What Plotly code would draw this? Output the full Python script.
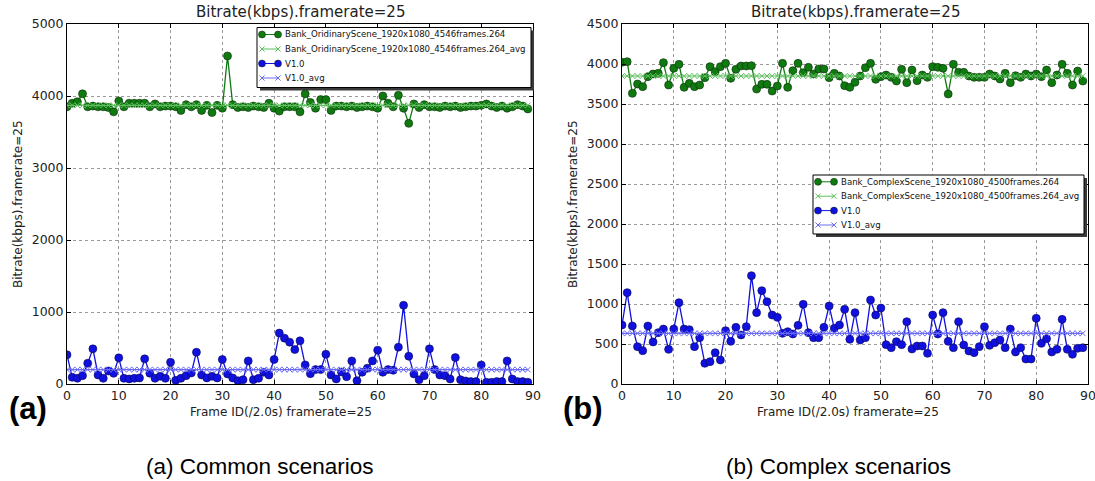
import plotly.graph_objects as go

frames = list(range(90))

# (a) Common scenarios
common_ref = [3850, 3900, 3920, 4030, 3850, 3860, 3850, 3850, 3840, 3780,
              3930, 3850, 3900, 3900, 3900, 3900, 3850, 3890, 3850, 3860,
              3860, 3850, 3800, 3880, 3850, 3880, 3800, 3870, 3770, 3870,
              3830, 4556, 3880, 3840, 3850, 3840, 3860, 3850, 3840, 3900,
              3830, 3790, 3850, 3850, 3850, 3780, 4030, 3910, 3830, 3950,
              3950, 3800, 3860, 3860, 3850, 3860, 3840, 3850, 3860, 3850,
              3830, 4000, 3900, 3850, 4010, 3830, 3620, 3890, 3840, 3880,
              3850, 3850, 3840, 3860, 3850, 3860, 3840, 3850, 3860, 3860,
              3870, 3890, 3860, 3840, 3860, 3830, 3850, 3880, 3860, 3820]
common_ref_avg = 3870
common_v1 = [405, 93, 80, 116, 288, 488, 125, 79, 181, 149,
             363, 79, 70, 79, 84, 349, 149, 79, 107, 79,
             302, 51, 79, 116, 153, 442, 125, 84, 107, 84,
             340, 140, 84, 46, 60, 321, 60, 79, 163, 125,
             340, 707, 637, 581, 479, 600, 265, 144, 200, 200,
             414, 125, 70, 167, 102, 321, 46, 163, 219, 321,
             470, 163, 200, 191, 512, 1093, 386, 140, 60, 116,
             488, 200, 125, 116, 70, 367, 60, 42, 33, 33,
             265, 23, 23, 33, 33, 321, 70, 33, 33, 23]
common_v1_avg = 200

# (b) Complex scenarios
complex_ref = [4021, 4029, 3633, 3750, 3717, 3842, 3875, 3883, 4017, 3737,
               3946, 3996, 3708, 3758, 3717, 3737, 3829, 3967, 3904, 3967,
               4008, 3821, 3933, 3975, 3975, 3979, 3687, 3746, 3746, 3662,
               3725, 4008, 3708, 3917, 4008, 3892, 3958, 3875, 3938, 3938,
               3829, 3883, 3850, 3729, 3708, 3771, 3850, 3954, 4008, 3808,
               3842, 3862, 3833, 3787, 3933, 3767, 3925, 3792, 3862, 3833,
               3967, 3958, 3946, 3625, 3996, 3896, 3896, 3850, 3833, 3833,
               3833, 3875, 3850, 3812, 3883, 3767, 3854, 3833, 3875, 3850,
               3875, 3842, 3925, 3767, 3862, 3996, 3883, 3737, 3912, 3787]
complex_ref_avg = 3850
complex_v1 = [737, 1142, 725, 467, 417, 725, 525, 642, 687, 433,
              687, 1017, 687, 679, 467, 579, 258, 279, 392, 300,
              667, 533, 708, 613, 717, 1354, 892, 1167, 1029, 862,
              833, 633, 654, 625, 733, 996, 642, 579, 579, 708,
              975, 696, 737, 933, 558, 892, 550, 579, 1050, 862,
              950, 492, 454, 529, 492, 779, 438, 475, 475, 383,
              862, 625, 892, 533, 454, 779, 488, 412, 392, 467,
              717, 483, 517, 550, 454, 687, 400, 454, 312, 312,
              821, 508, 567, 400, 433, 808, 433, 371, 446, 454]
complex_v1_avg = 633

names_a = ["Bank_OridinaryScene_1920x1080_4546frames.264",
           "Bank_OridinaryScene_1920x1080_4546frames.264_avg", "V1.0", "V1.0_avg"]
names_b = ["Bank_ComplexScene_1920x1080_4500frames.264",
           "Bank_ComplexScene_1920x1080_4500frames.264_avg", "V1.0", "V1.0_avg"]

x_ticks = [0, 10, 20, 30, 40, 50, 60, 70, 80, 90]
y_ticks_a = [0, 1000, 2000, 3000, 4000, 5000]
y_ticks_b = [0, 500, 1000, 1500, 2000, 2500, 3000, 3500, 4000, 4500]

plot_title = "Bitrate(kbps).framerate=25"
x_title = "Frame ID(/2.0s) framerate=25"
y_title = "Bitrate(kbps).framerate=25"
caption_a = "(a) Common scenarios"
caption_b = "(b) Complex scenarios"

W, H = 1095, 481
GREEN = "#0f7a0f"
BLUE = "#1010e0"
LGREEN = "#5ec05e"
LBLUE = "#6a6af5"
FONT = "DejaVu Sans"
styles = [(GREEN, "dot"), (LGREEN, "x"), (BLUE, "dot"), (LBLUE, "x")]

fig = go.Figure()


def add_panel(ref, ref_avg, v1, v1_avg, names, xa, ya):
    fig.add_trace(go.Scatter(x=frames, y=ref, mode="lines+markers", name=names[0],
                             line=dict(color=GREEN, width=1.3),
                             marker=dict(size=8, color=GREEN, line=dict(color="#0b2b0b", width=0.6)),
                             xaxis=xa, yaxis=ya))
    fig.add_trace(go.Scatter(x=frames, y=[ref_avg] * len(frames), mode="lines+markers", name=names[1],
                             line=dict(color=LGREEN, width=1.2),
                             marker=dict(size=5.5, symbol="x-thin", color=LGREEN, line=dict(color=LGREEN, width=1)),
                             xaxis=xa, yaxis=ya))
    fig.add_trace(go.Scatter(x=frames, y=v1, mode="lines+markers", name=names[2],
                             line=dict(color=BLUE, width=1.3),
                             marker=dict(size=8, color=BLUE, line=dict(color="#0a0a50", width=0.6)),
                             xaxis=xa, yaxis=ya))
    fig.add_trace(go.Scatter(x=frames, y=[v1_avg] * len(frames), mode="lines+markers", name=names[3],
                             line=dict(color=LBLUE, width=1.2),
                             marker=dict(size=5.5, symbol="x-thin", color=LBLUE, line=dict(color=LBLUE, width=1)),
                             xaxis=xa, yaxis=ya))


add_panel(common_ref, common_ref_avg, common_v1, common_v1_avg, names_a, "x", "y")
add_panel(complex_ref, complex_ref_avg, complex_v1, complex_v1_avg, names_b, "x2", "y2")


def px(x):
    return x / W


def py(y):
    return 1 - y / H


def draw_legend(names, box, row0, step):
    x0, y0, x1, y1 = box
    # shadow
    fig.add_shape(type="rect", xref="paper", yref="paper", x0=px(x0 + 3), x1=px(x1 + 3),
                  y0=py(y0 + 3), y1=py(y1 + 3), fillcolor="#3a3a3a", line=dict(width=0), layer="above")
    fig.add_shape(type="rect", xref="paper", yref="paper", x0=px(x0), x1=px(x1),
                  y0=py(y0), y1=py(y1), fillcolor="white", line=dict(color="black", width=1), layer="above")
    sx0, sx1 = x0 + 5, x0 + 21
    for k, (name, (col, kind)) in enumerate(zip(names, styles)):
        yy = row0 + step * k
        fig.add_shape(type="line", xref="paper", yref="paper", x0=px(sx0), x1=px(sx1),
                      y0=py(yy), y1=py(yy), line=dict(color=col, width=1), layer="above")
        for cx in (sx0, sx1):
            if kind == "dot":
                r = 3.5
                fig.add_shape(type="circle", xref="paper", yref="paper", x0=px(cx - r), x1=px(cx + r),
                              y0=py(yy + r), y1=py(yy - r), fillcolor=col,
                              line=dict(color="#0b200b", width=0.5), layer="above")
            else:
                r = 2.6
                fig.add_shape(type="line", xref="paper", yref="paper", x0=px(cx - r), x1=px(cx + r),
                              y0=py(yy - r), y1=py(yy + r), line=dict(color=col, width=1), layer="above")
                fig.add_shape(type="line", xref="paper", yref="paper", x0=px(cx - r), x1=px(cx + r),
                              y0=py(yy + r), y1=py(yy - r), line=dict(color=col, width=1), layer="above")
        fig.add_annotation(xref="paper", yref="paper", x=px(sx1 + 5), y=py(yy), text=name,
                           showarrow=False, xanchor="left", yanchor="middle",
                           font=dict(family=FONT, size=8.6, color="#111"))


draw_legend(names_a, (257, 27.5, 531, 87.5), 34.5, 14.5)
draw_legend(names_b, (813, 175, 1084, 234), 181.8, 14.4)

ydom = [1 - 384 / H, 1 - 24 / H]
axis_common = dict(showline=True, linecolor="black", linewidth=1, mirror="ticks",
                   ticks="inside", ticklen=4, tickcolor="black", automargin=False,
                   ticklabeloverflow="allow",
                   showgrid=True, gridcolor="#9a9a9a", griddash="dot", gridwidth=1,
                   zeroline=False, tickfont=dict(family=FONT, size=12.5, color="#222"))

fig.update_layout(
    width=W, height=H,
    margin=dict(l=0, r=0, t=0, b=0, autoexpand=False),
    paper_bgcolor="white", plot_bgcolor="white",
    xaxis=dict(domain=[67 / W, 533 / W], range=[0, 90], tickvals=x_ticks, anchor="y", **axis_common),
    yaxis=dict(domain=ydom, range=[0, 5000], tickvals=y_ticks_a, anchor="x", **axis_common),
    xaxis2=dict(domain=[622 / W, 1088 / W], range=[0, 90], tickvals=x_ticks, anchor="y2", **axis_common),
    yaxis2=dict(domain=ydom, range=[0, 4500], tickvals=y_ticks_b, anchor="x2", **axis_common),
    showlegend=False,
)

annots = [
    dict(x=300 / W, y=1 - 12 / H, text=plot_title, font=dict(family=FONT, size=15, color="#222")),
    dict(x=855 / W, y=1 - 12 / H, text=plot_title, font=dict(family=FONT, size=15, color="#222")),
    dict(x=281 / W, y=1 - 412 / H, text=x_title, font=dict(family=FONT, size=12, color="#222")),
    dict(x=848 / W, y=1 - 412 / H, text=x_title, font=dict(family=FONT, size=12, color="#222")),
    dict(x=18 / W, y=1 - 204 / H, text=y_title, textangle=-90, font=dict(family=FONT, size=12, color="#222")),
    dict(x=573 / W, y=1 - 204 / H, text=y_title, textangle=-90, font=dict(family=FONT, size=12, color="#222")),
    dict(x=28 / W, y=1 - 408 / H, text="<b>(a)</b>", font=dict(family="Liberation Sans", size=31, color="black")),
    dict(x=583 / W, y=1 - 408 / H, text="<b>(b)</b>", font=dict(family="Liberation Sans", size=31, color="black")),
    dict(x=260 / W, y=1 - 466 / H, text=caption_a, font=dict(family="Liberation Sans", size=22.5, color="black")),
    dict(x=838 / W, y=1 - 466 / H, text=caption_b, font=dict(family="Liberation Sans", size=22.5, color="black")),
]
for a in annots:
    fig.add_annotation(xref="paper", yref="paper", showarrow=False, xanchor="center", yanchor="middle", **a)

fig.write_html("out.html", config={"displayModeBar": False},
               post_script="document.body.style.margin='0';document.body.style.overflow='hidden';")
